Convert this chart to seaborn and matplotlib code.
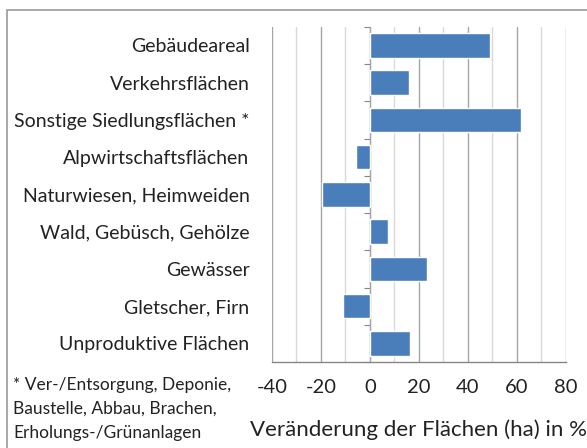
import matplotlib
matplotlib.use("Agg")
import matplotlib.pyplot as plt
import seaborn as sns
import pandas as pd
from matplotlib.patches import Rectangle
from matplotlib.ticker import MultipleLocator

# -----------------------------
# Data
# -----------------------------
categories = [
    "Gebäudeareal",
    "Verkehrsflächen",
    "Sonstige Siedlungsflächen *",
    "Alpwirtschaftsflächen",
    "Naturwiesen, Heimweiden",
    "Wald, Gebüsch, Gehölze",
    "Gewässer",
    "Gletscher, Firn",
    "Unproduktive Flächen",
]
changes = [49, 16, 61.5, -5.5, -19.5, 7.5, 23.5, -11, 16.5]
x_ticks = [-40, -20, 0, 20, 40, 60, 80]

footnote = "* Ver-/Entsorgung, Deponie,\nBaustelle, Abbau, Brachen,\nErholungs-/Grünanlagen"

df = pd.DataFrame({"Kategorie": categories, "Veraenderung": changes})

# -----------------------------
# Style
# -----------------------------
sns.set_style("white")
plt.rcParams["font.family"] = ["Lato", "DejaVu Sans"]
plt.rcParams["axes.unicode_minus"] = False

fig = plt.figure(figsize=(5.87, 4.48), dpi=100)
ax = fig.add_axes([0.463, 0.192, 0.501, 0.748])

sns.barplot(data=df, y="Kategorie", x="Veraenderung", orient="h",
            color="#4a7ebb", saturation=1, width=0.66, ax=ax, zorder=3)

ax.set_xlim(-40, 80)
ax.set_xticks(x_ticks)
ax.xaxis.set_minor_locator(MultipleLocator(10))
ax.grid(axis="x", which="major", color="#a6a6a6", linewidth=1.0, zorder=0)
ax.grid(axis="x", which="minor", color="#d9d9d9", linewidth=1.0, zorder=0)
ax.set_axisbelow(True)

for s in ["top", "right", "left"]:
    ax.spines[s].set_visible(False)
ax.spines["bottom"].set_color("#868686")
ax.spines["bottom"].set_linewidth(1.0)

ax.tick_params(axis="x", which="major", direction="out", length=5,
               color="#868686", labelsize=14.5, pad=7, labelcolor="#222222")
ax.tick_params(axis="x", which="minor", length=0)
ax.tick_params(axis="y", length=0, labelsize=14, pad=16, labelcolor="#222222")

ax.set_ylabel("")
ax.set_xlabel("Veränderung der Flächen (ha) in %", fontsize=16, color="#222222",
              labelpad=17)

# vertical axis at zero with small tick marks between categories
sec = ax.secondary_yaxis(1 / 3)
sec.set_yticks([i - 0.5 for i in range(len(categories) + 1)])
sec.set_yticklabels([])
sec.tick_params(axis="y", direction="out", length=4, color="#868686")
sec.spines["left"].set_color("#868686")

# footnote
fig.text(0.022, 0.158, footnote, fontsize=12.5, va="top", ha="left",
         color="#222222", linespacing=1.6)

# outer frame
fig.patches.append(Rectangle((0.012, -0.05), 1.5, 1.028, transform=fig.transFigure,
                             fill=False, edgecolor="#9a9a9a", linewidth=1.2))

fig.savefig("out.png", dpi=100)
plt.close(fig)
